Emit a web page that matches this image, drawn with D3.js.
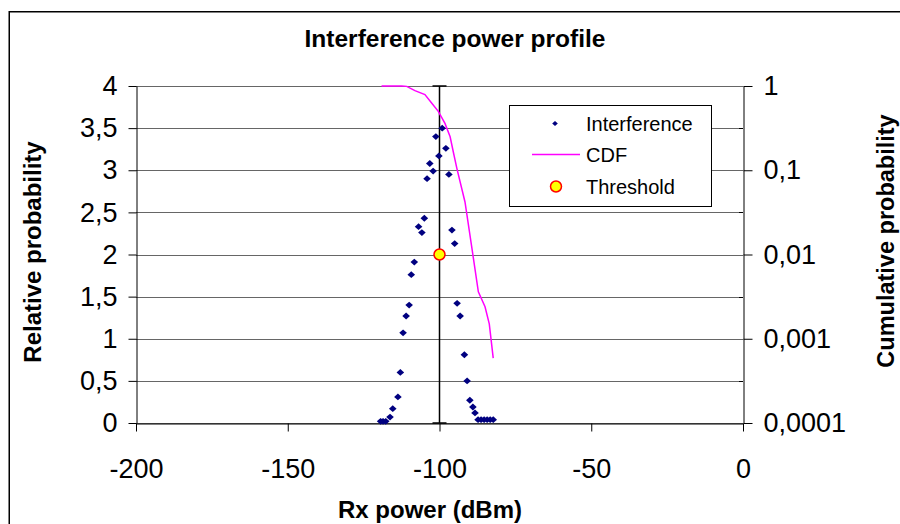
<!DOCTYPE html>
<html><head><meta charset="utf-8">
<script src="https://cdn.jsdelivr.net/npm/d3@7"></script>
<style>
html,body{margin:0;padding:0;background:#fff;}
svg{display:block;font-family:Arial,"Liberation Sans",sans-serif;}
</style></head>
<body>
<svg id="chart" width="900" height="524"></svg>
<script>
// ---- data ----
const interferenceX = [-119.4,-118.6,-117.7,-116.3,-115.4,-113.7,-112.9,-112.0,-111.0,-110.0,-109.3,-108.3,-106.9,-105.8,-105.0,-104.1,-103.2,-102.1,-101.2,-100.2,-99.1,-97.9,-96.9,-95.9,-95.0,-94.2,-93.2,-91.8,-90.9,-90.0,-89.0,-88.3,-87.3,-86.3,-85.3,-84.3,-83.3,-82.3];
const interferenceY = [0.02,0.02,0.02,0.07,0.17,0.31,0.60,1.07,1.27,1.40,1.76,1.91,2.33,2.26,2.43,2.90,3.08,2.99,3.40,3.17,3.50,3.26,2.95,2.29,2.13,1.42,1.27,0.81,0.50,0.27,0.19,0.12,0.04,0.04,0.04,0.04,0.04,0.04];
const cdfX = [-119.1,-112.5,-110.8,-108.1,-104.8,-102.6,-100.4,-98.2,-96.5,-95.5,-94.3,-91.6,-88.9,-87.2,-85.0,-83.6,-82.3];
const cdfY = [1,1,0.99,0.88,0.79,0.63,0.50,0.36,0.25,0.168,0.106,0.042,0.0094,0.0036,0.0024,0.0015,0.00059];
const thresholdX = -100;
const thresholdY = 2;
const thresholdBar = [0, 4];
const xTicks = [-200,-150,-100,-50,0];
const yTicks = [0,0.5,1,1.5,2,2.5,3,3.5,4];
const y2Ticks = [0.0001,0.001,0.01,0.1,1];
const y2Labels = ["0,0001","0,001","0,01","0,1","1"];
const y2Minor = [0.000316,0.00316,0.0316,0.316];
const seriesNames = ["Interference","CDF","Threshold"];
const chartTitle = "Interference power profile";
const xTitle = "Rx power (dBm)";
const yTitle = "Relative probability";
const y2Title = "Cumulative probability";

// ---- layout ----
const L = 136, R = 743, T = 86, B = 423;
const svg = d3.select("#chart");
const x = d3.scaleLinear().domain([-200,0]).range([L,R]);
const y = d3.scaleLinear().domain([0,4]).range([B,T]);
const y2 = d3.scaleLog().domain([0.0001,1]).range([B,T]);

svg.append("rect").attr("width",900).attr("height",524).attr("fill","#fff");
svg.append("rect").attr("x",9.25).attr("y",11.75).attr("width",960).attr("height",600)
  .attr("fill","none").attr("stroke","#000").attr("stroke-width",1.5);

// gridlines
svg.append("g").selectAll("line").data(yTicks).join("line")
  .attr("x1",L).attr("x2",R).attr("y1",d=>Math.round(y(d))+0.5).attr("y2",d=>Math.round(y(d))+0.5)
  .attr("stroke","#666").attr("stroke-width",1);

const fmt = d => String(d).replace(".",",");
const tickFont = 27;

const gL = svg.append("g").attr("transform",`translate(${L+0.5},0)`)
  .call(d3.axisLeft(y).tickValues(yTicks).tickFormat(fmt).tickSize(8).tickSizeOuter(0).tickPadding(11));
const gB = svg.append("g").attr("transform",`translate(0,${B+0.5})`)
  .call(d3.axisBottom(x).tickValues(xTicks).tickFormat(d=>String(d)).tickSize(8).tickSizeOuter(0).tickPadding(27));
const gR = svg.append("g").attr("transform",`translate(${R+0.5},0)`)
  .call(d3.axisRight(y2).tickValues(y2Ticks).tickFormat((d,i)=>y2Labels[i]).tickSize(9).tickSizeOuter(0).tickPadding(11));
[gL,gB,gR].forEach(g=>{
  g.selectAll("path.domain").attr("stroke","#000").attr("stroke-width",1);
  g.selectAll(".tick line").attr("stroke","#000");
  g.selectAll("text").attr("font-size",tickFont).attr("fill","#000").attr("font-family","Arial, 'Liberation Sans', sans-serif");
});
// minor ticks on right axis (inside)
svg.append("g").selectAll("line").data(y2Minor).join("line")
  .attr("x1",R-4).attr("x2",R).attr("y1",d=>Math.round(y2(d))+0.5).attr("y2",d=>Math.round(y2(d))+0.5)
  .attr("stroke","#000");

// threshold bar (vertical error bar)
const bar = svg.append("g").attr("stroke","#000").attr("stroke-width",1.5);
bar.append("line").attr("x1",x(thresholdX)).attr("x2",x(thresholdX)).attr("y1",y(thresholdBar[0])).attr("y2",y(thresholdBar[1]));
thresholdBar.forEach(v=>{
  bar.append("line").attr("x1",x(thresholdX)-7).attr("x2",x(thresholdX)+7).attr("y1",y(v)).attr("y2",y(v));
});

// CDF line
svg.append("path").datum(cdfX.map((d,i)=>[d,cdfY[i]]))
  .attr("d",d3.line().x(d=>x(d[0])).y(d=>y2(d[1])))
  .attr("fill","none").attr("stroke","#FF00FF").attr("stroke-width",1.5);

// Interference markers
const diamond = (w,h)=>`M0,${-h}L${w},0L0,${h}L${-w},0Z`;
svg.append("g").selectAll("path").data(interferenceX.map((d,i)=>[d,interferenceY[i]])).join("path")
  .attr("transform",d=>`translate(${x(d[0])},${y(d[1])})`)
  .attr("d",diamond(3.8,3.4)).attr("fill","#000080");

// Threshold point
svg.append("circle").attr("cx",x(thresholdX)).attr("cy",y(thresholdY)).attr("r",5.5)
  .attr("fill","#FFFF00").attr("stroke","#FF0000").attr("stroke-width",1.5);

// Legend
const lg = svg.append("g");
lg.append("rect").attr("x",509.5).attr("y",105.5).attr("width",202).attr("height",101)
  .attr("fill","#fff").attr("stroke","#000").attr("stroke-width",1);
const rows = [123.5,154.5,186.5];
lg.append("path").attr("transform",`translate(555,${rows[0]})`).attr("d",diamond(2.8,2.6)).attr("fill","#000080");
lg.append("line").attr("x1",532).attr("x2",580).attr("y1",rows[1]).attr("y2",rows[1]).attr("stroke","#FF00FF").attr("stroke-width",1.5);
lg.append("circle").attr("cx",556).attr("cy",rows[2]).attr("r",5.5).attr("fill","#FFFF00").attr("stroke","#FF0000").attr("stroke-width",1.5);
lg.selectAll("text").data(seriesNames).join("text")
  .attr("x",586).attr("y",(d,i)=>rows[i]).attr("dy","0.35em")
  .attr("font-size",20).attr("fill","#000").text(d=>d);

// Titles
svg.append("text").attr("x",455).attr("y",38).attr("dy","0.35em").attr("text-anchor","middle")
  .attr("font-size",24.5).attr("font-weight","bold").text(chartTitle);
svg.append("text").attr("x",430).attr("y",510).attr("dy","0.35em").attr("text-anchor","middle")
  .attr("font-size",24).attr("font-weight","bold").text(xTitle);
svg.append("text").attr("transform","translate(33,252) rotate(-90)").attr("dy","0.35em").attr("text-anchor","middle")
  .attr("font-size",24).attr("font-weight","bold").text(yTitle);
svg.append("text").attr("transform","translate(886,241) rotate(-90)").attr("dy","0.35em").attr("text-anchor","middle")
  .attr("font-size",23.5).attr("font-weight","bold").text(y2Title);
</script>
</body></html>
